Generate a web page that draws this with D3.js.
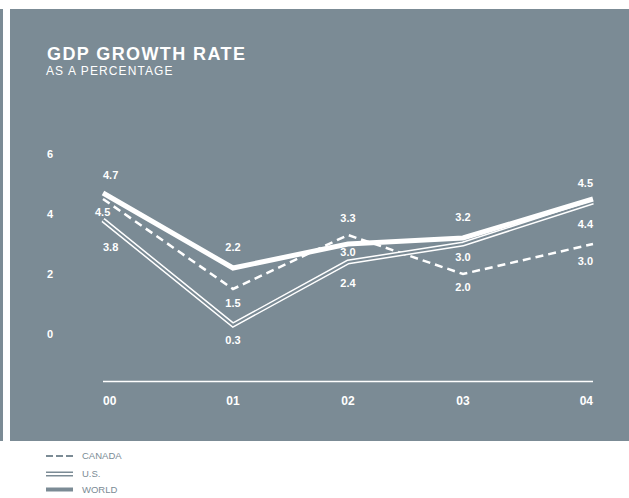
<!DOCTYPE html>
<html>
<head>
<meta charset="utf-8">
<script src="https://cdn.jsdelivr.net/npm/d3@7"></script>
<style>
  html, body { margin: 0; padding: 0; background: #ffffff; }
  svg { display: block; font-family: "Liberation Sans", Arial, Helvetica, sans-serif; }
</style>
</head>
<body>
<svg id="chart" width="629" height="498"></svg>
<script>
// GDP growth, annual %, 2000–2004
const years = ["00", "01", "02", "03", "04"];
const canada = [4.5, 1.5, 3.3, 2.0, 3.0];
const us = [3.8, 0.3, 2.4, 3.0, 4.4];
const world = [4.7, 2.2, 3.0, 3.2, 4.5];
const yTicks = [0, 2, 4, 6];
const seriesNames = ["CANADA", "U.S.", "WORLD"];

// value-label placement (vertical nudge in px from the point, horizontal nudge)
const canadaLabelDy = [13, 14, -17, 13, 17];
const canadaLabelDx = [-8, 0, 0, 0, 0];
const usLabelDy = [27, 15, 21, 13, 22];
const worldLabelDy = [-18, -21, 8, -21, -16];

const panel = "#7b8b95";
const W = 629, H = 498;

const svg = d3.select("#chart");

// background panel and thin strip on the left
svg.append("rect").attr("x", 0).attr("y", 9).attr("width", 3).attr("height", 432).attr("fill", panel);
svg.append("rect").attr("x", 10).attr("y", 9).attr("width", W - 10).attr("height", 432).attr("fill", panel);

// title block
svg.append("text").attr("x", 47).attr("y", 60)
  .attr("fill", "#fff").attr("font-size", 18).attr("font-weight", "bold")
  .attr("letter-spacing", 1.4).text("GDP GROWTH RATE");
svg.append("text").attr("x", 46).attr("y", 75)
  .attr("fill", "#fff").attr("font-size", 12)
  .attr("letter-spacing", 1.1).text("AS A PERCENTAGE");

// scales
const axisLeft = 103, axisRight = 593;
const x = d3.scalePoint().domain(years).range([118, 578]);
const last = years.length - 1;
// first and last years run out to the ends of the base rule
const xPos = (d, i) => i === 0 ? axisLeft : i === last ? axisRight : x(d);
const anchorFor = i => i === 0 ? "start" : i === last ? "end" : "middle";
const y = d3.scaleLinear().domain([0, 6]).range([334, 154]);

// y tick labels
svg.append("g").selectAll("text").data(yTicks).join("text")
  .attr("x", 47).attr("y", d => y(d)).attr("dy", "0.35em")
  .attr("fill", "#fff").attr("font-size", 11).attr("font-weight", "bold")
  .text(d => d);

// base rule
svg.append("line").attr("x1", axisLeft).attr("x2", axisRight)
  .attr("y1", 381.5).attr("y2", 381.5)
  .attr("stroke", "#fff").attr("stroke-width", 1.5);

// x labels
svg.append("g").selectAll("text").data(years).join("text")
  .attr("x", (d, i) => xPos(d, i)).attr("y", 401).attr("dy", "0.35em")
  .attr("text-anchor", (d, i) => anchorFor(i))
  .attr("fill", "#fff").attr("font-size", 12).attr("font-weight", "bold")
  .text(d => d);

const line = d3.line()
  .x((d, i) => xPos(years[i], i))
  .y(d => y(d));

const plot = svg.append("g").attr("fill", "none");

// Canada: dashed
plot.append("path").datum(canada).attr("d", line)
  .attr("stroke", "#fff").attr("stroke-width", 2.5)
  .attr("stroke-dasharray", "8,5").attr("stroke-linejoin", "miter");

// U.S.: double rule (wide white stroke with a panel-coloured core)
plot.append("path").datum(us).attr("d", line)
  .attr("stroke", "#fff").attr("stroke-width", 5).attr("stroke-linejoin", "miter");
plot.append("path").datum(us).attr("d", line)
  .attr("stroke", panel).attr("stroke-width", 2).attr("stroke-linejoin", "miter");

// World: heavy solid
plot.append("path").datum(world).attr("d", line)
  .attr("stroke", "#fff").attr("stroke-width", 5).attr("stroke-linejoin", "miter");

// value labels
function labels(values, dys, dxs) {
  svg.append("g").selectAll("text").data(values).join("text")
    .attr("x", (d, i) => xPos(years[i], i) + (dxs ? dxs[i] : 0))
    .attr("y", (d, i) => y(d) + dys[i]).attr("dy", "0.35em")
    .attr("text-anchor", (d, i) => anchorFor(i))
    .attr("fill", "#fff").attr("font-size", 11).attr("font-weight", "bold")
    .text(d => d.toFixed(1));
}
labels(canada, canadaLabelDy, canadaLabelDx);
labels(us, usLabelDy);
labels(world, worldLabelDy);

// legend
const legend = svg.append("g");
const legendY = [456, 474, 489.5];
const lx0 = 46, lx1 = 73;
legend.append("line").attr("x1", lx0).attr("x2", lx1).attr("y1", legendY[0]).attr("y2", legendY[0])
  .attr("stroke", panel).attr("stroke-width", 2).attr("stroke-dasharray", "7,3");
legend.append("line").attr("x1", lx0).attr("x2", lx1).attr("y1", legendY[1]).attr("y2", legendY[1])
  .attr("stroke", panel).attr("stroke-width", 5);
legend.append("line").attr("x1", lx0).attr("x2", lx1).attr("y1", legendY[1]).attr("y2", legendY[1])
  .attr("stroke", "#fff").attr("stroke-width", 2);
legend.append("line").attr("x1", lx0).attr("x2", lx1).attr("y1", legendY[2]).attr("y2", legendY[2])
  .attr("stroke", panel).attr("stroke-width", 4);
legend.selectAll("text").data(seriesNames).join("text")
  .attr("x", 82).attr("y", (d, i) => legendY[i]).attr("dy", "0.35em")
  .attr("fill", panel).attr("font-size", 9.5)
  .text(d => d);
</script>
</body>
</html>
